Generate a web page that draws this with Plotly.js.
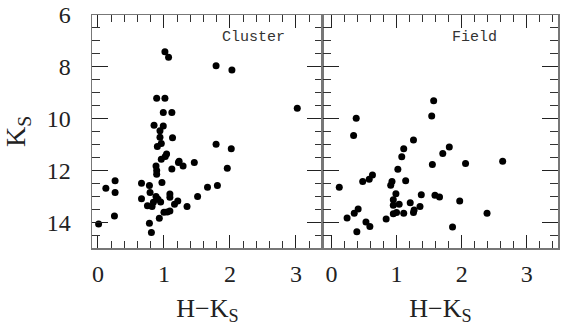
<!DOCTYPE html>
<html>
<head>
<meta charset="utf-8">
<script src="https://cdn.plot.ly/plotly-3.0.1.min.js"></script>
<style>html,body{margin:0;padding:0;background:#fff;}#chart{width:570px;height:331px;}</style>
</head>
<body>
<div id="chart"></div>
<script>
// Cluster panel: H-Ks colour and Ks magnitude
const clusterHK = [1.015,1.07,1.79,2.03,3.02,0.89,1.015,0.99,1.12,0.85,0.99,0.94,0.94,0.96,0.90,1.13,1.79,2.02,1.04,1.02,0.96,1.22,1.23,1.29,1.46,1.12,0.88,0.89,0.89,1.96,0.12,0.26,0.26,0.66,0.78,0.97,0.79,0.66,0.88,0.75,0.82,0.84,0.91,0.95,1.09,1.09,1.21,1.16,1.00,1.05,1.09,0.93,1.35,1.51,1.66,1.81,0.25,0.01,0.78,0.81];
const clusterKs = [7.42,7.63,7.96,8.12,9.60,9.22,9.22,9.77,9.77,10.26,10.29,10.47,10.72,10.96,11.08,10.74,10.99,11.17,11.37,11.47,11.57,11.70,11.65,11.83,11.70,11.95,11.83,12.01,12.15,11.92,12.69,12.40,12.86,12.50,12.59,12.47,12.86,13.10,13.01,13.37,13.40,13.23,13.12,13.22,12.91,13.04,13.18,13.31,13.62,13.61,13.57,13.85,13.40,13.01,12.65,12.59,13.76,14.07,14.04,14.40];
// Field panel
const fieldHK = [1.57,1.54,0.38,0.34,1.26,1.81,1.11,1.71,1.08,1.55,2.06,2.63,1.02,0.63,0.58,0.48,1.14,0.93,0.91,0.12,0.99,1.38,1.59,1.66,0.95,1.97,1.04,0.95,1.21,1.36,1.27,1.26,1.11,1.00,0.95,0.41,0.35,0.24,0.84,0.53,0.59,0.39,1.86,2.39];
const fieldKs = [9.31,9.90,9.99,10.65,10.83,11.10,11.17,11.35,11.48,11.77,11.74,11.65,11.96,12.18,12.34,12.43,12.40,12.43,12.58,12.65,12.90,12.94,12.96,13.03,13.14,13.18,13.31,13.35,13.25,13.40,13.53,13.63,13.66,13.63,13.68,13.49,13.66,13.84,13.88,14.00,14.17,14.37,14.19,13.66];
const xTickVals = [0,1,2,3];
const yTickVals = [6,8,10,12,14];
const panelLabels = ['Cluster','Field'];

const serif = 'Liberation Serif, DejaVu Serif, serif';
const marker = {color:'#000', size:7, symbol:'circle'};
const traces = [
  {x:clusterHK, y:clusterKs, type:'scatter', mode:'markers', marker:marker, xaxis:'x', yaxis:'y', hoverinfo:'skip'},
  {x:fieldHK, y:fieldKs, type:'scatter', mode:'markers', marker:marker, xaxis:'x2', yaxis:'y2', hoverinfo:'skip'}
];
function xax(domain, range){
  return {domain:domain, range:range, tickvals:xTickVals, ticks:'inside', ticklen:13, tickwidth:1, tickcolor:'#222',
    minor:{dtick:0.2, ticks:'inside', ticklen:7, tickcolor:'#333', tickwidth:1},
    showline:true, mirror:'allticks', linecolor:'#777', linewidth:1.5, showgrid:false, zeroline:false,
    tickfont:{family:serif, size:24, color:'#222'}, ticklabelstandoff:4,
    title:{text:'H\u2212K<sub>S</sub>', font:{family:serif, size:26, color:'#222'}, standoff:12}};
}
function yax(showLabels, anchor){
  return {range:[15,6], tickvals:yTickVals, ticks:'inside', ticklen:16, tickwidth:1, tickcolor:'#222',
    minor:{dtick:0.5, ticks:'inside', ticklen:8, tickcolor:'#333', tickwidth:1},
    showline:true, mirror:'allticks', linecolor:'#777', linewidth:1.5, showgrid:false, zeroline:false,
    showticklabels:showLabels, anchor:anchor,
    tickfont:{family:serif, size:24, color:'#222'}, ticklabelstandoff:15,
    title: showLabels ? {text:'K<sub>S</sub>', font:{family:serif, size:28, color:'#222'}, standoff:18} : {text:''}};
}
const layout = {
  width:570, height:331, margin:{l:92, r:12, t:15, b:83},
  paper_bgcolor:'#fff', plot_bgcolor:'#fff', showlegend:false,
  xaxis: xax([0,0.4957],[-0.09,3.41]),
  xaxis2: Object.assign(xax([0.4957,1],[-0.13,3.48]), {anchor:'y2'}),
  yaxis: yax(true,'x'),
  yaxis2: yax(false,'x2'),
  annotations:[
    {text:panelLabels[0], xref:'x', yref:'y', x:2.35, y:6.85, showarrow:false, font:{family:'Liberation Mono, DejaVu Sans Mono, monospace', size:15, color:'#333'}},
    {text:panelLabels[1], xref:'x2', yref:'y2', x:2.2, y:6.85, showarrow:false, font:{family:'Liberation Mono, DejaVu Sans Mono, monospace', size:15, color:'#333'}}
  ]
};
Plotly.newPlot('chart', traces, layout, {staticPlot:true, displayModeBar:false});
</script>
</body>
</html>
